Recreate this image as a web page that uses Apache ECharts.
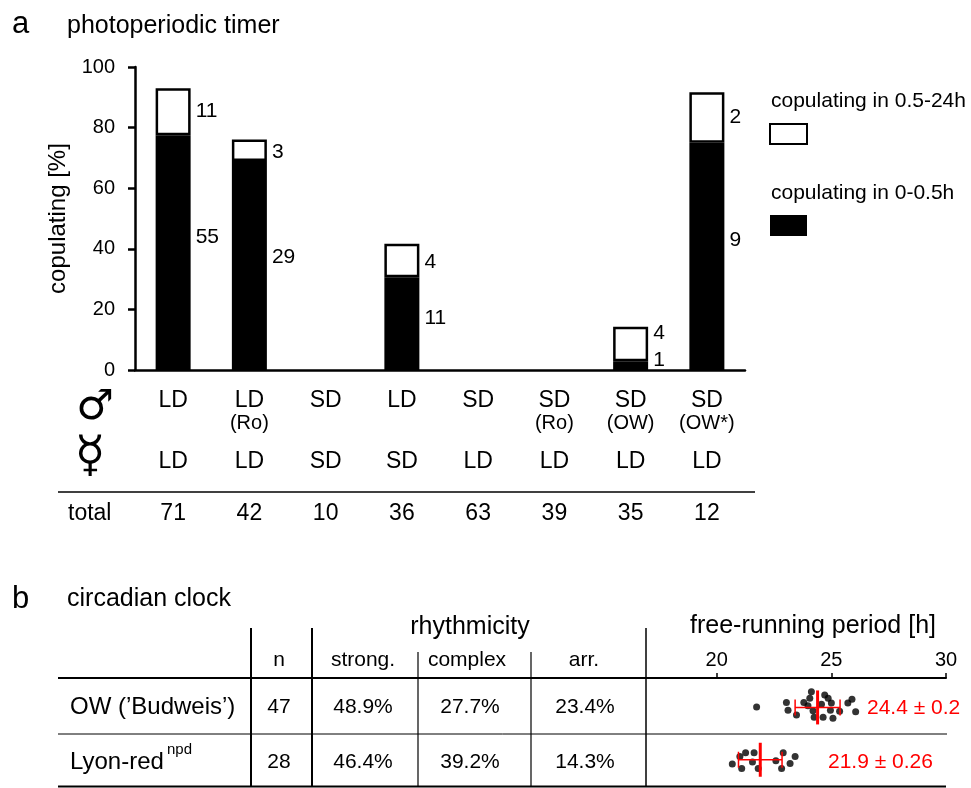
<!DOCTYPE html>
<html><head><meta charset="utf-8">
<script src="https://cdn.jsdelivr.net/npm/echarts@6/dist/echarts.min.js"></script>
<style>html,body{margin:0;padding:0;background:#fff}#c{width:971px;height:788px}</style>
</head><body><div id="c"></div>
<script>
// ---------- panel a data ----------
const maleLabels = ['LD', 'LD\n(Ro)', 'SD', 'LD', 'SD', 'SD\n(Ro)', 'SD\n(OW)', 'SD\n(OW*)'];
const femaleLabels = ['LD', 'LD', 'SD', 'SD', 'LD', 'LD', 'LD', 'LD'];
const totals = [71, 42, 10, 36, 63, 39, 35, 12];
const fastPct = [77.5, 69.0, 0, 30.6, 0, 0, 2.9, 75.0];   // copulating in 0-0.5h
const latePct = [15.5, 7.1, 0, 11.1, 0, 0, 11.4, 16.7];   // copulating in 0.5-24h
const fastCounts = [55, 29, 0, 11, 0, 0, 1, 9];
const lateCounts = [11, 3, 0, 4, 0, 0, 4, 2];
const legendNames = ['copulating in 0.5-24h', 'copulating in 0-0.5h'];

// ---------- panel b data ----------
const strains = ['OW (’Budweis’)', 'Lyon-red'];
const strainSup = ['', 'npd'];
const nVals = [47, 28];
const strongPct = ['48.9%', '46.4%'];
const complexPct = ['27.7%', '39.2%'];
const arrPct = ['23.4%', '14.3%'];
const periodMean = [24.4, 21.9];
const periodSem = ['0.2', '0.26'];
const periodSd = [0.98, 0.95];
const periodTicks = [20, 25, 30];
const owPeriods = [21.74, 23.04, 23.11, 23.48, 23.8, 23.98, 24.06, 24.13, 24.2, 24.25, 24.57, 24.64, 24.71, 24.86, 24.96, 25.0, 25.07, 25.36, 25.72, 25.9, 26.06];
const owRowPos = [0.53, 0.45, 0.59, 0.68, 0.45, 0.51, 0.37, 0.25, 0.6, 0.72, 0.48, 0.72, 0.31, 0.37, 0.59, 0.46, 0.74, 0.61, 0.46, 0.39, 0.62];
const lyonPeriods = [20.68, 21.01, 21.09, 21.26, 21.63, 21.56, 21.81, 22.58, 22.83, 22.9, 23.2, 23.42];
const lyonRowPos = [1.58, 1.44, 1.66, 1.37, 1.37, 1.54, 1.66, 1.52, 1.66, 1.37, 1.57, 1.44];
const rowCenter = [0.54, 1.5];

// ---------- styling (not data) ----------
const FONT = '"Liberation Sans", Arial, Helvetica, sans-serif';
const fastLabelDy = [-15, -8, 0, -5, 0, 0, -5, -16];
const lateLabelDy = [0, 2, 0, 2, 0, 0, -11, 0];

function T(x, y, text, size, align, extra) {
  return {type: 'text', silent: true, style: Object.assign({
    text: text, x: x, y: y, font: size + 'px ' + FONT, fill: '#000',
    align: align || 'left', textAlign: align || 'left',
    verticalAlign: 'middle', textVerticalAlign: 'middle'
  }, extra || {})};
}
function L(x1, y1, x2, y2, w) {
  return {type: 'line', silent: true, shape: {x1: x1, y1: y1, x2: x2, y2: y2}, style: {stroke: '#000', lineWidth: w || 1.5}};
}

const rowsY = [707, 762];
const colX = {n: 279, strong: 363, complex: 470, arr: 585};

const graphics = [
  T(12, 24, 'a', 31),
  T(67, 26, 'photoperiodic timer', 25),
  T(95, 408, '♂', 42, 'center', {font: '42px "DejaVu Sans"'}),
  T(90, 458, '☿', 50, 'center', {font: '50px "DejaVu Sans"'}),
  T(68, 514, 'total', 23),
  L(58, 492, 755, 492, 1.5),
  T(771, 101, legendNames[0], 21),
  {type: 'rect', silent: true, shape: {x: 770, y: 124, width: 37, height: 20}, style: {fill: '#fff', stroke: '#000', lineWidth: 2}},
  T(771, 193, legendNames[1], 21),
  {type: 'rect', silent: true, shape: {x: 770, y: 215, width: 37, height: 21}, style: {fill: '#000'}},
  T(12, 599, 'b', 31),
  T(67, 599, 'circadian clock', 25),
  T(470, 627, 'rhythmicity', 25, 'center'),
  T(813, 626, 'free-running period [h]', 25, 'center'),
  T(colX.n, 660, 'n', 21, 'center'),
  T(colX.strong, 660, 'strong.', 21, 'center'),
  T(467, 660, 'complex', 21, 'center'),
  T(584, 660, 'arr.', 21, 'center'),
  L(251, 628, 251, 787, 2),
  L(312, 628, 312, 787, 2),
  L(418, 652, 418, 787, 1.2),
  L(531, 652, 531, 787, 1.2),
  L(646, 628, 646, 787, 1.5),
  L(58, 678, 946, 678, 2),
  L(58, 734, 947, 734, 1),
  L(58, 786.5, 946, 786.5, 2)
];
strains.forEach(function (s, i) {
  const y = rowsY[i];
  graphics.push(T(70, y, s, 24));
  if (strainSup[i]) graphics.push(T(167, y - 12, strainSup[i], 15));
  graphics.push(T(colX.n, y, String(nVals[i]), 21, 'center'));
  graphics.push(T(colX.strong, y, strongPct[i], 21, 'center'));
  graphics.push(T(colX.complex, y, complexPct[i], 21, 'center'));
  graphics.push(T(colX.arr, y, arrPct[i], 21, 'center'));
});
graphics.push(T(867, 708, periodMean[0] + ' ± ' + periodSem[0], 21, 'left', {fill: '#ff0000'}));
graphics.push(T(828, 762, periodMean[1] + ' ± ' + periodSem[1], 21, 'left', {fill: '#ff0000'}));

const chart = echarts.init(document.getElementById('c'), null, {renderer: 'canvas'});
const txtBase = {color: '#000', fontFamily: FONT};

const option = {
  animation: false,
  backgroundColor: '#fff',
  textStyle: {fontFamily: FONT, color: '#000'},
  grid: [
    {left: 135, top: 67, width: 610, height: 303},
    {left: 716.7, top: 678, width: 229.3, height: 109}
  ],
  xAxis: [
    {
      type: 'category', gridIndex: 0, data: maleLabels,
      axisLine: {lineStyle: {color: '#000', width: 2.5}},
      axisTick: {alignWithLabel: true, length: 8, lineStyle: {color: '#000', width: 2.5}},
      axisLabel: {
        margin: 19, interval: 0,
        formatter: function (v) {
          return v.split('\n').map(function (s, i) { return (i === 0 ? '{a|' : '{b|') + s + '}'; }).join('\n');
        },
        rich: {
          a: Object.assign({fontSize: 23, lineHeight: 23}, txtBase),
          b: Object.assign({fontSize: 20, lineHeight: 22}, txtBase)
        }
      }
    },
    {
      type: 'category', gridIndex: 0, data: femaleLabels, position: 'bottom', offset: 80,
      axisLine: {show: false}, axisTick: {show: false},
      axisLabel: Object.assign({margin: 0, interval: 0, fontSize: 23, lineHeight: 23}, txtBase)
    },
    {
      type: 'category', gridIndex: 0, data: totals.map(String), position: 'bottom', offset: 132,
      axisLine: {show: false}, axisTick: {show: false},
      axisLabel: Object.assign({margin: 0, interval: 0, fontSize: 23, lineHeight: 23}, txtBase)
    },
    {
      type: 'value', gridIndex: 1, position: 'top', min: periodTicks[0], max: periodTicks[periodTicks.length - 1], interval: 5,
      axisLine: {show: true, lineStyle: {color: '#000', width: 2}},
      axisTick: {show: true, length: 5, lineStyle: {color: '#000', width: 1.5}},
      axisLabel: Object.assign({fontSize: 20, margin: 8}, txtBase),
      splitLine: {show: false}
    }
  ],
  yAxis: [
    {
      type: 'value', gridIndex: 0, min: 0, max: 100, interval: 20,
      name: 'copulating [%]', nameLocation: 'middle', nameGap: 52,
      nameTextStyle: Object.assign({fontSize: 24}, txtBase),
      axisLine: {show: true, lineStyle: {color: '#000', width: 2.5}},
      axisTick: {show: true, length: 7, lineStyle: {color: '#000', width: 2.5}},
      axisLabel: Object.assign({fontSize: 20, margin: 20}, txtBase),
      splitLine: {show: false}
    },
    {type: 'value', gridIndex: 1, min: 0, max: 2, inverse: true, show: false}
  ],
  series: [
    {
      name: legendNames[1], type: 'bar', stack: 'cop', xAxisIndex: 0, yAxisIndex: 0, barWidth: 35,
      itemStyle: {color: '#000', borderColor: '#000', borderWidth: 2.5},
      label: {show: true, position: 'right', distance: 5, fontSize: 21, color: '#000', fontFamily: FONT,
        formatter: function (p) { return String(fastCounts[p.dataIndex]); }},
      data: fastPct.map(function (v, i) {
        return {value: v > 0 ? v : null, label: {show: fastCounts[i] > 0, offset: [0, fastLabelDy[i]]}};
      })
    },
    {
      name: legendNames[0], type: 'bar', stack: 'cop', xAxisIndex: 0, yAxisIndex: 0, barWidth: 35,
      itemStyle: {color: '#fff', borderColor: '#000', borderWidth: 2.5},
      label: {show: true, position: 'right', distance: 5, fontSize: 21, color: '#000', fontFamily: FONT,
        formatter: function (p) { return String(lateCounts[p.dataIndex]); }},
      data: latePct.map(function (v, i) {
        return {value: v > 0 ? v : null, label: {show: lateCounts[i] > 0, offset: [0, lateLabelDy[i]]}};
      })
    },
    {
      type: 'scatter', xAxisIndex: 3, yAxisIndex: 1, symbolSize: 7, itemStyle: {color: '#000'},
      data: owPeriods.map(function (v, i) { return [v, owRowPos[i]]; })
    },
    {
      type: 'scatter', xAxisIndex: 3, yAxisIndex: 1, symbolSize: 7, itemStyle: {color: '#000'},
      data: lyonPeriods.map(function (v, i) { return [v, lyonRowPos[i]]; })
    },
    {
      type: 'custom', xAxisIndex: 3, yAxisIndex: 1, z: 5,
      data: periodMean.map(function (m, i) { return [m, periodSd[i], rowCenter[i]]; }),
      renderItem: function (params, api) {
        const m = api.value(0), sd = api.value(1), r = api.value(2);
        const c = api.coord([m, r]), lo = api.coord([m - sd, r]), hi = api.coord([m + sd, r]);
        const st = {stroke: '#ff0000', lineWidth: 1.5};
        return {type: 'group', children: [
          {type: 'line', shape: {x1: lo[0], y1: c[1], x2: hi[0], y2: c[1]}, style: st},
          {type: 'line', shape: {x1: lo[0], y1: c[1] - 8, x2: lo[0], y2: c[1] + 8}, style: st},
          {type: 'line', shape: {x1: hi[0], y1: c[1] - 8, x2: hi[0], y2: c[1] + 8}, style: st},
          {type: 'line', shape: {x1: c[0], y1: c[1] - 17, x2: c[0], y2: c[1] + 17}, style: {stroke: '#ff0000', lineWidth: 3}}
        ]};
      }
    }
  ],
  graphic: graphics
};
chart.setOption(option);
</script>
</body></html>
